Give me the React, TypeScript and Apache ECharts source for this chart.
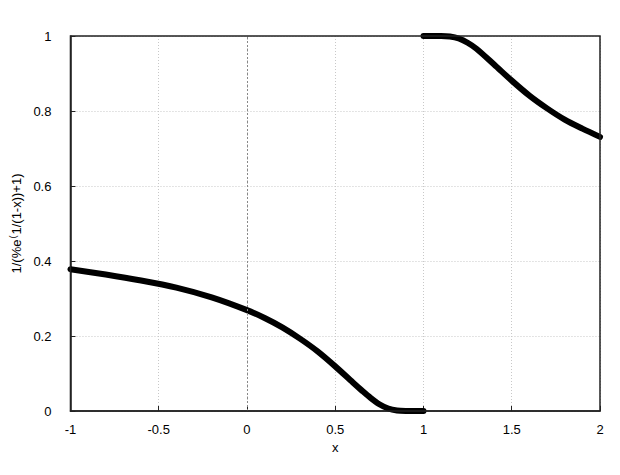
import React, { useEffect, useRef } from "react";
import * as echarts from "echarts";

// Values
const leftX = [-1, -0.8, -0.6, -0.4, -0.2, 0, 0.1, 0.2, 0.3, 0.4, 0.5, 0.6, 0.65, 0.7, 0.75, 0.8, 0.85, 0.9, 0.95, 1.0];
const leftY = [0.378, 0.364, 0.348, 0.329, 0.303, 0.269, 0.248, 0.223, 0.193, 0.159, 0.119, 0.076, 0.055, 0.035, 0.018, 0.0067, 0.0013, 0.0001, 0, 0];
const rightX = [1.0, 1.05, 1.1, 1.15, 1.2, 1.25, 1.3, 1.4, 1.5, 1.6, 1.7, 1.8, 1.9, 2.0];
const rightY = [1.0, 1.0, 1.0, 0.9987, 0.9933, 0.982, 0.966, 0.924, 0.881, 0.841, 0.807, 0.777, 0.753, 0.731];

const xTicks = [-1, -0.5, 0, 0.5, 1, 1.5, 2];
const yTicks = [0, 0.2, 0.4, 0.6, 0.8, 1];

const FONT = "'Liberation Sans', Arial, sans-serif";

export default function App() {
  const ref = useRef<HTMLDivElement>(null);
  useEffect(() => {
    if (!ref.current) return;
    const chart = echarts.init(ref.current, null, { renderer: "svg" });
    chart.setOption({
      animation: false,
      backgroundColor: "#fff",
      grid: {
        left: 67, right: 20, top: 36, bottom: 64, containLabel: false,
        show: true, borderColor: "#222", borderWidth: 1.5, z: 10,
      },
      xAxis: [
        {
          type: "value",
          min: xTicks[0],
          max: xTicks[xTicks.length - 1],
          interval: 0.5,
          name: "x",
          nameLocation: "middle",
          nameGap: 29,
          nameTextStyle: { fontFamily: FONT, fontSize: 13, color: "#000" },
          axisLine: { show: true, onZero: false, lineStyle: { color: "#222", width: 1.5 } },
          axisTick: { show: true, inside: true, length: 5, lineStyle: { color: "#222", width: 1 } },
          splitLine: { show: true, lineStyle: { color: "#c8c8c8", type: [1, 2], width: 1 } },
          axisLabel: {
            margin: 12,
            fontFamily: FONT,
            fontSize: 13,
            color: "#000",
            formatter: (v: number) => String(v),
          },
        },
      ],
      yAxis: [
        {
          type: "value",
          min: yTicks[0],
          max: yTicks[yTicks.length - 1],
          interval: 0.2,
          name: "1/(%e{sup|(}1/(1-x))+1)",
          nameLocation: "middle",
          nameGap: 28,
          nameRotate: 90,
          nameTextStyle: {
            fontFamily: FONT,
            fontSize: 13,
            color: "#000",
            rich: { sup: { fontSize: 9, verticalAlign: "top", padding: [0, 1, 7, 1], fontFamily: FONT, color: "#000" } },
          },
          axisLine: { show: true, onZero: false, lineStyle: { color: "#222", width: 1.5 } },
          axisTick: { show: true, inside: true, length: 5, lineStyle: { color: "#222", width: 1 } },
          splitLine: { show: true, lineStyle: { color: "#c8c8c8", type: [1, 2], width: 1 } },
          axisLabel: {
            margin: 19,
            fontFamily: FONT,
            fontSize: 13,
            color: "#000",
            formatter: (v: number) => String(Math.round(v * 10) / 10),
          },
        },
      ],
      series: [
        {
          type: "line",
          data: leftX.map((x, i) => [x, leftY[i]]),
          smooth: 0.3,
          showSymbol: false,
          lineStyle: { color: "#000", width: 6, cap: "round", join: "round" },
          markLine: {
            silent: true,
            symbol: "none",
            label: { show: false },
            lineStyle: { color: "#888", type: [2, 2], width: 1 },
            data: [{ xAxis: 0 }],
          },
          z: 3,
        },
        {
          type: "line",
          data: rightX.map((x, i) => [x, rightY[i]]),
          smooth: 0.3,
          showSymbol: false,
          lineStyle: { color: "#000", width: 6, cap: "round", join: "round" },
          z: 3,
        },
      ],
    });
    return () => chart.dispose();
  }, []);
  return <div ref={ref} style={{ width: 620, height: 475, margin: -8 }} />;
}
